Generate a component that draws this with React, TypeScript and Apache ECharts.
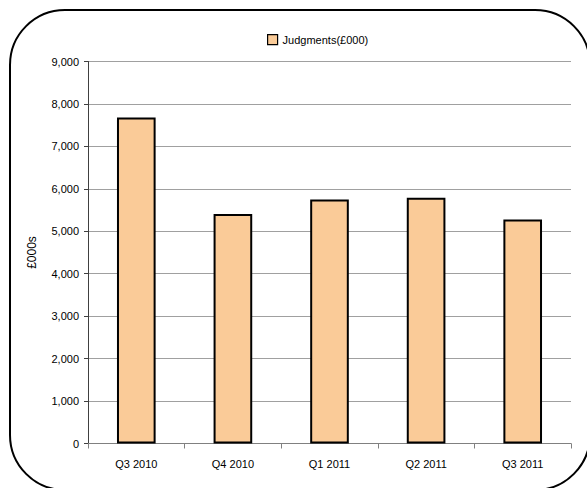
import React, { useEffect, useRef } from "react";
import * as echarts from "echarts";

const categories = ["Q3 2010", "Q4 2010", "Q1 2011", "Q2 2011", "Q3 2011"];
const judgments = [7680, 5410, 5750, 5790, 5280];
const seriesName = "Judgments(£000)";
const yAxisName = "£000s";

export default function App() {
  const ref = useRef<HTMLDivElement>(null);
  useEffect(() => {
    if (!ref.current) return;
    const chart = echarts.init(ref.current, undefined, { renderer: "svg" });
    const font = "'Liberation Sans', Arial, sans-serif";
    chart.setOption({
      animation: false,
      backgroundColor: "#ffffff",
      textStyle: { fontFamily: font },
      graphic: [
        {
          type: "rect",
          shape: { x: 10, y: 10, width: 580, height: 480, r: 55 },
          style: { fill: "none", stroke: "#000000", lineWidth: 2 },
          silent: true,
        },
      ],
      legend: {
        data: [seriesName],
        left: 262,
        top: 29,
        icon: "rect",
        itemWidth: 10,
        itemHeight: 10,
        itemGap: 4,
        itemStyle: { borderColor: "#000", borderWidth: 1.2 },
        textStyle: { fontFamily: font, fontSize: 11, color: "#000" },
      },
      grid: { left: 88, right: 16, top: 61.5, bottom: 44.5, containLabel: false },
      xAxis: {
        type: "category",
        data: categories,
        axisLine: { show: true, lineStyle: { color: "#808080", width: 1 } },
        axisTick: { show: true, alignWithLabel: false, length: 5, lineStyle: { color: "#808080" } },
        axisLabel: { color: "#000", fontSize: 11, fontFamily: font, margin: 15 },
      },
      yAxis: {
        type: "value",
        min: 0,
        max: 9000,
        interval: 1000,
        name: yAxisName,
        nameLocation: "middle",
        nameGap: 50,
        nameTextStyle: { color: "#000", fontSize: 12, fontFamily: font },
        axisLine: { show: true, lineStyle: { color: "#404040", width: 1 } },
        axisTick: { show: true, length: 4, lineStyle: { color: "#404040" } },
        axisLabel: {
          color: "#000",
          fontSize: 11,
          fontFamily: font,
          margin: 9,
          formatter: (v: number) => v.toLocaleString("en-US"),
        },
        splitLine: { show: true, lineStyle: { color: "#a0a0a0", width: 1 } },
      },
      series: [
        {
          name: seriesName,
          type: "bar",
          data: judgments,
          barWidth: "40%",
          itemStyle: { color: "#FACB98", borderColor: "#000", borderWidth: 2 },
        },
      ],
    });
    return () => chart.dispose();
  }, []);
  return (
    <div
      ref={ref}
      style={{ position: "fixed", left: 0, top: 0, width: 587, height: 488 }}
    />
  );
}
